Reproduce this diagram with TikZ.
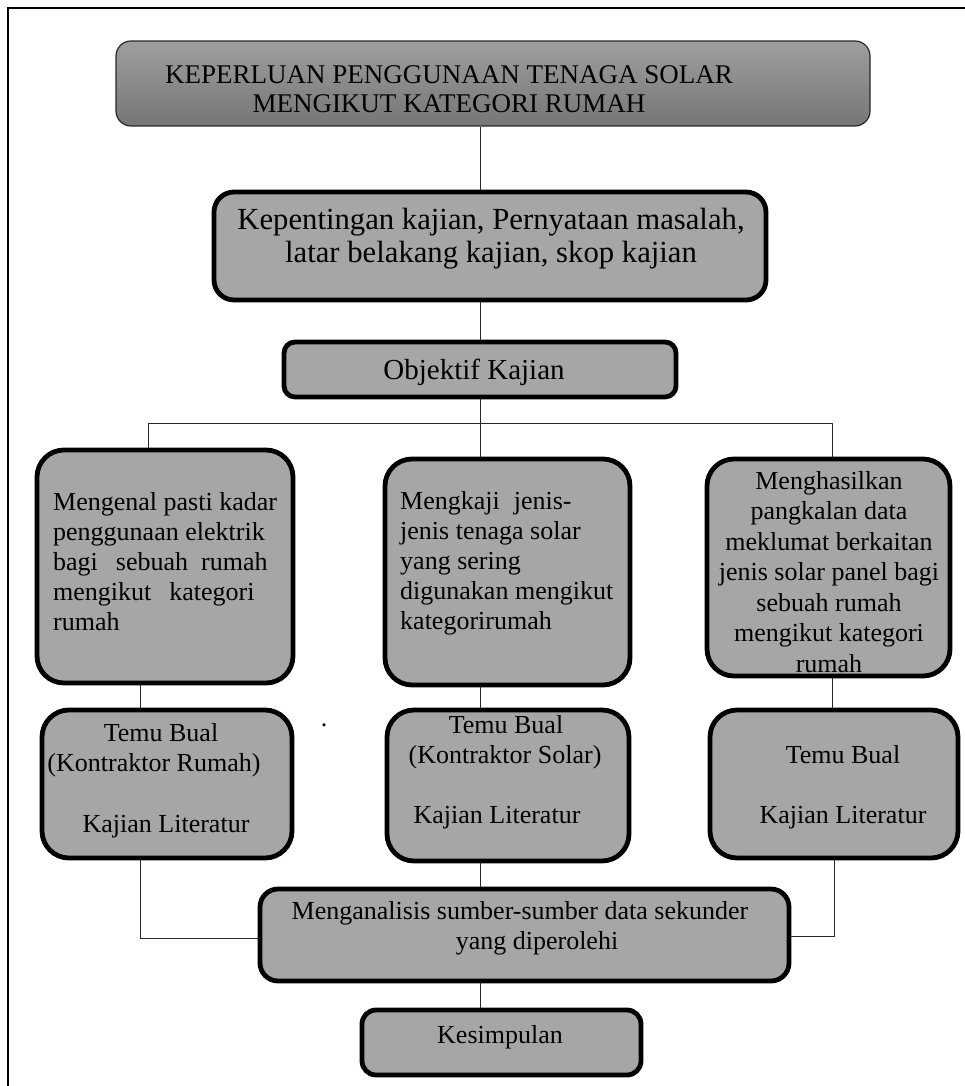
\documentclass[tikz,border=0pt]{standalone}
\usepackage{fontspec}
\setmainfont{Liberation Serif}
\definecolor{boxgray}{RGB}{166,166,166}
\definecolor{gtop}{RGB}{158,158,158}
\definecolor{gbot}{RGB}{118,118,118}
\definecolor{linec}{RGB}{40,40,40}
\newcommand{\mkbox}[6]{%
  \node[#6, minimum width={#4pt-#2pt}, minimum height={#5pt-#3pt}, inner sep=0pt]
    (#1) at ({(#2+#4)/2},{(#3+#5)/2}) {};}
\tikzset{
  titlebox/.style={draw=linec, line width=1.2pt, rounded corners=15pt, top color=gtop, bottom color=gbot},
  thickbox/.style={draw=black, line width=4.8pt, fill=boxgray},
  conn/.style={draw=linec, line width=1pt},
  txt/.style={inner sep=0pt, font=\fontsize{26pt}{30pt}\selectfont},
}
\begin{document}
\begin{tikzpicture}[x=1pt,y=-1pt]
\useasboundingbox (0,0) rectangle (965,1086);
% frame
\draw[line width=2pt] (8,1090) -- (8,8) -- (970,8);
% connector coordinates
\coordinate (sx) at (480,0);
\coordinate (lx) at (148,0);
\coordinate (rx) at (832,0);
\coordinate (lx2) at (140,0);
\coordinate (rx2) at (834,0);
\coordinate (bus) at (0,423);
\coordinate (lowL) at (0,938);
\coordinate (lowR) at (0,936);
% boxes
\mkbox{title}{116}{41}{870}{126}{titlebox}
\mkbox{b2}{214}{192}{766}{300}{thickbox, rounded corners=20pt}
\mkbox{b3}{284}{342}{676}{397}{thickbox, rounded corners=11pt}
\mkbox{b4}{37}{450}{293}{683}{thickbox, rounded corners=27pt}
\mkbox{b5}{385}{459}{630}{685}{thickbox, rounded corners=27pt}
\mkbox{b6}{707}{459}{950}{676}{thickbox, rounded corners=27pt}
\mkbox{b7}{42}{710}{292}{858}{thickbox, rounded corners=27pt}
\mkbox{b8}{387}{710}{629}{861}{thickbox, rounded corners=27pt}
\mkbox{b9}{710}{710}{958}{858}{thickbox, rounded corners=27pt}
\mkbox{b10}{260}{889}{789}{981}{thickbox, rounded corners=18pt}
\mkbox{b11}{362}{1010}{641}{1075}{thickbox, rounded corners=14pt}
% texts
\node[txt, font=\fontsize{27pt}{28.5pt}\selectfont, align=center] (tt) at (449,89)
  {KEPERLUAN PENGGUNAAN TENAGA SOLAR\\MENGIKUT KATEGORI RUMAH};
\node[txt, font=\fontsize{30.7pt}{33pt}\selectfont, align=center] (t2) at (491,238.5)
  {Kepentingan kajian, Pernyataan masalah,\\latar belakang kajian, skop kajian};
\node[txt, font=\fontsize{29pt}{33pt}\selectfont] (t3) at (474,372) {Objektif Kajian};
\node[txt, align=left, anchor=north west] (t4) at (53,492)
  {Mengenal pasti kadar\\penggunaan elektrik\\bagi\hspace{18pt}sebuah\hspace{13pt}rumah\\mengikut\hspace{18pt}kategori\\rumah};
\node[txt, align=left, anchor=north west] (t5) at (400,491)
  {Mengkaji\hspace{14pt}jenis-\\jenis tenaga solar\\yang sering\\digunakan mengikut\\kategorirumah};
\node[txt, font=\fontsize{26pt}{30.5pt}\selectfont, align=center] (t6) at (829,572)
  {Menghasilkan\\pangkalan data\\meklumat berkaitan\\jenis solar panel bagi\\sebuah rumah\\mengikut kategori\\rumah};
\node[txt] (t7a) at (161,733) {Temu Bual};
\node[txt] (t7b) at (154,765) {(Kontraktor Rumah)};
\node[txt] (t7c) at (166,827) {Kajian Literatur};
\node[txt] (dot) at (324,725) {.};
\node[txt] (t8a) at (506,725) {Temu Bual};
\node[txt] (t8b) at (505,757) {(Kontraktor Solar)};
\node[txt] (t8c) at (497,818) {Kajian Literatur};
\node[txt] (t9a) at (843,755) {Temu Bual};
\node[txt] (t9c) at (843,818) {Kajian Literatur};
\node[txt] (t10a) at (520,913) {Menganalisis sumber-sumber data sekunder};
\node[txt] (t10b) at (537,943) {yang diperolehi};
\node[txt] (t11) at (500,1037) {Kesimpulan};
% connectors
\draw[conn] (title.south -| sx) -- (b2.north -| sx);
\draw[conn] (b2.south -| sx) -- (b3.north -| sx);
\draw[conn] (b3.south -| sx) -- (b5.north -| sx);
\draw[conn] (bus -| lx) -- (bus -| rx);
\draw[conn] (bus -| lx) -- (b4.north -| lx);
\draw[conn] (bus -| rx) -- (b6.north -| rx);
\draw[conn] (b4.south -| lx2) -- (b7.north -| lx2);
\draw[conn] (b5.south -| sx) -- (b8.north -| sx);
\draw[conn] (b6.south -| rx) -- (b9.north -| rx);
\draw[conn] (b7.south -| lx2) -- (lowL -| lx2) -- (lowL -| b10.west);
\draw[conn] (b8.south -| sx) -- (b10.north -| sx);
\draw[conn] (b9.south -| rx2) -- (lowR -| rx2) -- (lowR -| b10.east);
\draw[conn] (b10.south -| sx) -- (b11.north -| sx);
\end{tikzpicture}
\end{document}
